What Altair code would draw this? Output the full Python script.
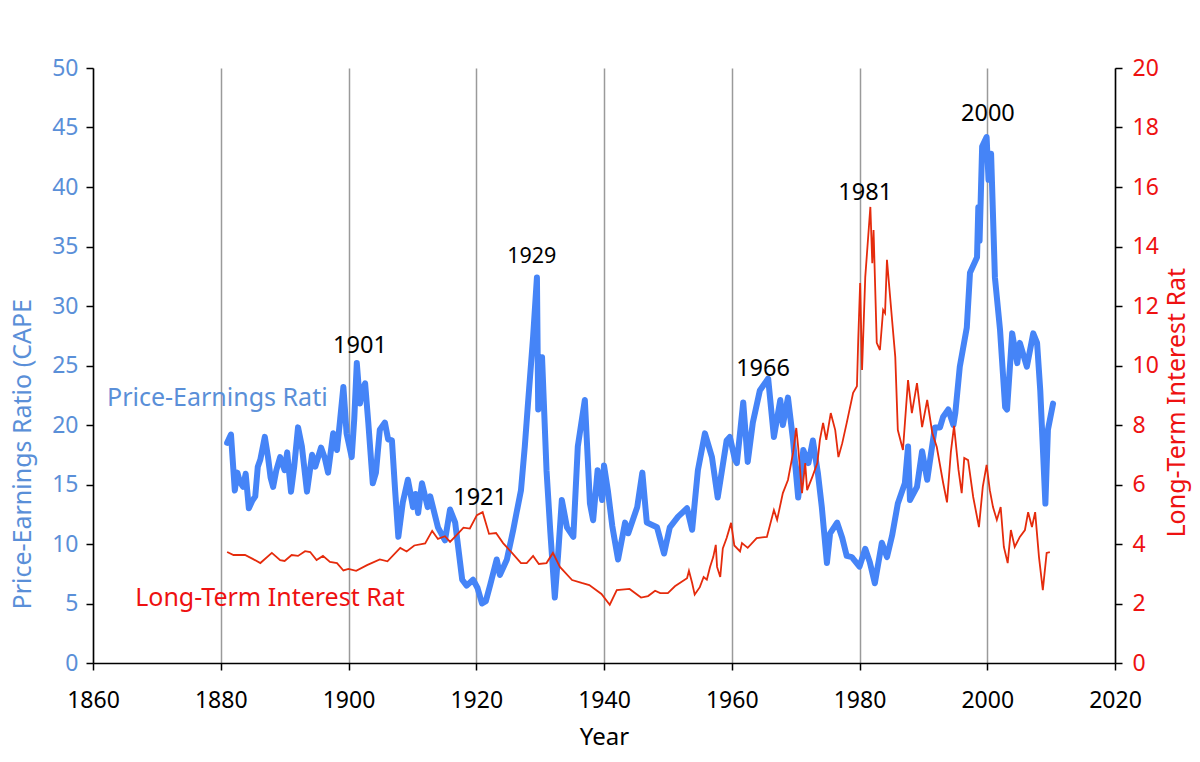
import altair as alt
import pandas as pd

# ---- data ----
cape_years = [1881.0, 1881.6, 1882.2, 1882.6, 1883.0, 1883.5, 1883.9, 1884.4, 1884.9, 1885.4,
              1885.8, 1886.2, 1886.9, 1887.4, 1887.8, 1888.2, 1888.7, 1889.3, 1890.0, 1890.4,
              1891.0, 1891.5, 1892.1, 1892.7, 1893.5, 1894.3, 1894.8, 1895.7, 1896.3, 1896.8,
              1897.6, 1898.2, 1898.7, 1899.2, 1899.7, 1900.5, 1900.9, 1901.3, 1901.8, 1902.2,
              1902.6, 1903.1, 1903.8, 1904.3, 1904.9, 1905.7, 1906.2, 1906.8, 1907.3, 1907.8,
              1908.5, 1909.3, 1910.1, 1910.5, 1910.9, 1911.5, 1912.4, 1912.8, 1914.0, 1915.1,
              1915.9, 1916.7, 1917.8, 1918.5, 1919.5, 1920.2, 1920.9, 1921.5, 1922.2, 1923.2,
              1923.7, 1924.8, 1925.8, 1926.3, 1927.0, 1927.6, 1928.1, 1928.9, 1929.5, 1929.7,
              1930.3, 1931.0, 1931.6, 1932.3, 1932.8, 1933.4, 1934.2, 1935.2, 1935.9, 1937.0,
              1937.8, 1938.3, 1939.0, 1939.7, 1940.0, 1940.6, 1941.3, 1942.2, 1943.3, 1943.8,
              1945.2, 1946.0, 1946.7, 1948.3, 1949.4, 1950.3, 1951.6, 1953.0, 1953.8, 1954.7,
              1955.8, 1956.9, 1957.8, 1959.2, 1959.7, 1960.5, 1960.8, 1961.8, 1962.5, 1963.3,
              1964.4, 1965.7, 1966.6, 1967.6, 1968.0, 1968.8, 1969.6, 1970.4, 1971.2, 1972.0,
              1972.7, 1973.5, 1974.1, 1974.9, 1975.4, 1976.5, 1977.3, 1978.0, 1978.8, 1980.0,
              1980.9, 1981.6, 1982.4, 1983.5, 1984.3, 1985.1, 1986.0, 1987.1, 1987.6, 1987.9,
              1989.0, 1989.8, 1990.6, 1991.8, 1992.6, 1993.1, 1993.9, 1994.7, 1995.0, 1995.7,
              1996.8, 1997.3, 1998.4, 1998.6, 1998.8, 1999.2, 1999.9, 2000.2, 2000.6, 2001.2,
              2002.0, 2002.8, 2003.1, 2003.9, 2004.7, 2005.1, 2006.2, 2007.2, 2007.8, 2008.3,
              2009.1, 2009.5, 2010.3]
cape_values = [18.5, 19.2, 14.5, 16.0, 15.2, 14.8, 15.9, 13.0, 13.6, 14.0,
               16.5, 17.1, 19.0, 17.3, 15.6, 14.8, 16.2, 17.3, 16.2, 17.7,
               14.4, 16.5, 19.8, 18.2, 14.4, 17.5, 16.5, 18.1, 17.2, 16.0,
               19.3, 17.9, 20.5, 23.2, 19.3, 17.3, 20.5, 25.2, 21.8, 23.0,
               23.5, 20.2, 15.1, 16.0, 19.6, 20.2, 18.8, 18.7, 14.5, 10.6,
               13.5, 15.4, 13.1, 14.2, 12.6, 15.1, 13.1, 14.0, 11.4, 10.3,
               12.9, 11.8, 7.0, 6.5, 7.0, 6.3, 5.0, 5.2, 6.6, 8.7,
               7.4, 8.7, 11.2, 12.6, 14.5, 18.2, 21.8, 27.4, 32.4, 21.3,
               25.7, 16.2, 11.0, 5.5, 9.0, 13.7, 11.4, 10.6, 18.2, 22.1,
               13.4, 12.0, 16.2, 13.7, 16.6, 14.5, 11.5, 8.7, 11.8, 10.9,
               13.1, 16.0, 11.8, 11.4, 9.2, 11.4, 12.3, 13.0, 11.2, 16.2,
               19.3, 17.3, 13.9, 18.7, 19.0, 17.1, 16.8, 21.9, 16.9, 20.2,
               22.9, 23.9, 19.0, 22.1, 20.0, 22.3, 18.7, 13.9, 17.9, 16.8,
               18.7, 15.9, 13.1, 8.4, 10.9, 11.8, 10.5, 9.0, 8.9, 8.1,
               9.6, 8.5, 6.7, 10.1, 8.9, 10.7, 13.4, 15.1, 18.2, 13.7,
               14.8, 17.8, 15.4, 19.8, 19.8, 20.7, 21.3, 20.0, 21.0, 24.9,
               28.2, 32.8, 34.1, 38.3, 35.5, 43.4, 44.2, 40.6, 42.8, 32.4,
               28.0, 21.5, 21.3, 27.7, 25.2, 26.9, 24.9, 27.7, 26.9, 22.9,
               13.4, 19.6, 21.8]

rate_years = [1881.0, 1882.0, 1883.8, 1885.0, 1886.2, 1888.0, 1889.3, 1890.0, 1891.1, 1892.1,
              1893.2, 1894.0, 1895.0, 1896.0, 1897.1, 1898.2, 1899.2, 1900.0, 1901.2, 1902.9,
              1904.9, 1906.1, 1908.1, 1909.1, 1910.3, 1912.0, 1913.1, 1914.0, 1915.1, 1915.9,
              1917.1, 1918.0, 1919.0, 1920.1, 1921.0, 1922.0, 1923.1, 1924.2, 1925.6, 1927.0,
              1927.9, 1928.9, 1929.8, 1931.0, 1932.0, 1933.1, 1935.0, 1936.5, 1937.7, 1939.6,
              1940.9, 1942.0, 1944.0, 1945.8, 1946.9, 1948.0, 1948.8, 1950.0, 1951.1, 1953.0,
              1953.3, 1953.8, 1954.2, 1955.0, 1955.6, 1956.1, 1956.6, 1957.1, 1957.5, 1957.7,
              1958.2, 1958.6, 1959.2, 1959.9, 1960.4, 1961.3, 1961.6, 1962.5, 1963.9, 1965.5,
              1966.6, 1967.1, 1968.0, 1968.8, 1969.6, 1970.1, 1970.4, 1971.0, 1971.5, 1971.8,
              1972.6, 1973.4, 1973.8, 1974.3, 1974.8, 1975.5, 1976.2, 1976.7, 1977.3, 1978.0,
              1979.0, 1979.6, 1979.8, 1980.1, 1980.4, 1980.9, 1981.7, 1982.0, 1982.2, 1982.7,
              1983.2, 1983.7, 1984.0, 1984.3, 1985.1, 1985.6, 1986.0, 1986.8, 1987.6, 1988.2,
              1989.0, 1989.8, 1990.6, 1991.4, 1992.1, 1993.1, 1993.7, 1994.3, 1994.8, 1995.5,
              1996.0, 1996.4, 1997.0, 1997.8, 1998.7, 1999.3, 1999.9, 2000.4, 2000.9, 2001.5,
              2002.1, 2002.6, 2003.2, 2003.7, 2004.3, 2005.1, 2005.9, 2006.4, 2007.0, 2007.5,
              2008.1, 2008.7, 2009.3, 2009.8]
rate_values = [3.73, 3.63, 3.63, 3.50, 3.36, 3.70, 3.46, 3.43, 3.63, 3.60,
               3.76, 3.73, 3.46, 3.60, 3.40, 3.36, 3.11, 3.16, 3.10, 3.29,
               3.48, 3.42, 3.87, 3.75, 3.95, 4.02, 4.44, 4.17, 4.26, 4.07,
               4.34, 4.55, 4.52, 4.97, 5.07, 4.34, 4.37, 4.03, 3.70, 3.36,
               3.36, 3.60, 3.33, 3.36, 3.70, 3.23, 2.79, 2.69, 2.62, 2.32,
               1.96, 2.45, 2.49, 2.20, 2.25, 2.43, 2.35, 2.35, 2.58, 2.85,
               3.10, 2.69, 2.30, 2.55, 2.89, 2.80, 3.23, 3.56, 3.97, 3.23,
               2.89, 3.85, 4.20, 4.71, 3.95, 3.75, 4.03, 3.87, 4.20, 4.24,
               5.14, 4.81, 5.71, 6.15, 7.06, 7.90, 7.26, 5.71, 6.72, 5.81,
               6.25, 6.72, 7.50, 8.07, 7.50, 8.40, 7.83, 6.92, 7.39, 8.07,
               9.08, 9.30, 10.86, 12.77, 9.85, 12.97, 15.33, 13.44, 14.55, 10.76,
               10.52, 11.87, 11.76, 13.55, 11.53, 10.29, 7.83, 7.16, 9.51, 8.40,
               9.41, 7.93, 8.84, 7.73, 7.26, 6.05, 5.40, 7.09, 7.97, 6.49,
               5.71, 6.89, 6.82, 5.58, 4.57, 5.92, 6.66, 5.81, 5.24, 4.81,
               5.24, 3.90, 3.36, 4.47, 3.90, 4.24, 4.47, 5.07, 4.57, 5.07,
               3.56, 2.45, 3.70, 3.73]

peak_labels = ["1901", "1921", "1929", "1966", "1981", "2000"]
peak_x = [1901.8, 1920.6, 1928.7, 1964.9, 1980.9, 2000.1]
peak_y = [26.6, 13.9, 34.1, 24.7, 39.5, 46.1]
peak_size = [23.5, 23.5, 21.5, 23.5, 23.5, 23.5]

series_names = ["Price-Earnings Ratio (CAPE)", "Long-Term Interest Rate (%)"]
series_label_x = [1862.2, 1866.6]
series_label_y = [22.3, 5.46]

x_ticks = list(range(1860, 2021, 20))
left_ticks = list(range(0, 51, 5))
right_ticks = list(range(0, 21, 2))

BLUE_LINE = "#4584f7"
BLUE_TEXT = "#5a8fd8"
RED_LINE = "#e52b0c"
RED_TEXT = "#ee1111"
FONT = "Noto Sans"

cape_df = pd.DataFrame({"year": cape_years, "cape": cape_values})
rate_df = pd.DataFrame({"year": rate_years, "rate": rate_values})
peak_df = pd.DataFrame({"year": peak_x, "cape": peak_y, "label": peak_labels, "size": peak_size})
pe_label_df = pd.DataFrame({"year": [series_label_x[0]], "cape": [series_label_y[0]], "label": [series_names[0]]})
lt_label_df = pd.DataFrame({"year": [series_label_x[1]], "cape": [series_label_y[1]], "label": [series_names[1]]})

x_enc = alt.X(
    "year:Q",
    scale=alt.Scale(domain=[1860, 2020], nice=False, zero=False),
    axis=alt.Axis(
        values=x_ticks, format="d", title="Year", grid=True, gridColor="#9a9a9a",
        gridWidth=1.5, domainColor="#000000", domainWidth=1.5, tickColor="#000000",
        tickSize=7, tickWidth=1.5, labelColor="#000000", labelFontSize=23, labelFont=FONT,
        labelPadding=19, titleFont=FONT, titleFontSize=24, titleFontWeight="normal",
        titleColor="#000000", titlePadding=13, labelFlush=False,
    ),
)

y_left = alt.Y(
    "cape:Q",
    scale=alt.Scale(domain=[0, 50], nice=False),
    axis=alt.Axis(
        values=left_ticks, title="Price-Earnings Ratio (CAPE", grid=False,
        domainColor="#000000", domainWidth=1.5, tickColor="#000000", tickSize=7, tickWidth=1.5,
        labelColor=BLUE_TEXT, labelFontSize=23, labelFont=FONT, labelPadding=8,
        titleColor=BLUE_TEXT, titleFont=FONT, titleFontSize=25, titleFontWeight="normal",
        titleAngle=270, titleAlign="left", titleBaseline="middle", titleX=-71, titleY=541,
    ),
)

blue_line = alt.Chart(cape_df).mark_line(
    color=BLUE_LINE, strokeWidth=6, strokeJoin="round", strokeCap="round"
).encode(x=x_enc, y=y_left)

peaks = alt.Chart(peak_df).mark_text(
    font=FONT, color="#000000", baseline="middle", align="center"
).encode(x="year:Q", y="cape:Q", text="label:N", size=alt.Size("size:Q", scale=None, legend=None))

pe_label = alt.Chart(pe_label_df).mark_text(
    font=FONT, fontSize=25, color=BLUE_TEXT, align="left", baseline="middle", limit=236, ellipsis=" "
).encode(x="year:Q", y="cape:Q", text="label:N")

lt_label = alt.Chart(lt_label_df).mark_text(
    font=FONT, fontSize=25, color=RED_TEXT, align="left", baseline="middle", limit=277, ellipsis=" "
).encode(x="year:Q", y="cape:Q", text="label:N")

left_layer = alt.layer(blue_line, peaks, pe_label, lt_label)

red_line = alt.Chart(rate_df).mark_line(color=RED_LINE, strokeWidth=1.8).encode(
    x=alt.X("year:Q", scale=alt.Scale(domain=[1860, 2020], nice=False, zero=False)),
    y=alt.Y(
        "rate:Q",
        scale=alt.Scale(domain=[0, 20], nice=False),
        axis=alt.Axis(
            orient="right", values=right_ticks, title="Long-Term Interest Rat", grid=False,
            domainColor="#000000", domainWidth=1.5, tickColor="#000000", tickSize=7, tickWidth=1.5,
            labelColor=RED_TEXT, labelFontSize=23, labelFont=FONT, labelPadding=10,
            titleColor=RED_TEXT, titleFont=FONT, titleFontSize=25, titleFontWeight="normal",
            titleAngle=270, titleAlign="left", titleBaseline="middle", titleX=61, titleY=469,
        ),
    ),
)

chart = alt.layer(left_layer, red_line).resolve_scale(y="independent").properties(
    width=1022, height=595,
    autosize=alt.AutoSizeParams(type="none"),
    padding={"left": 93, "top": 68, "right": 85, "bottom": 99},
    background="#ffffff",
).configure_view(stroke=None)

chart.save("out.html", embed_options={"renderer": "svg", "actions": False})
